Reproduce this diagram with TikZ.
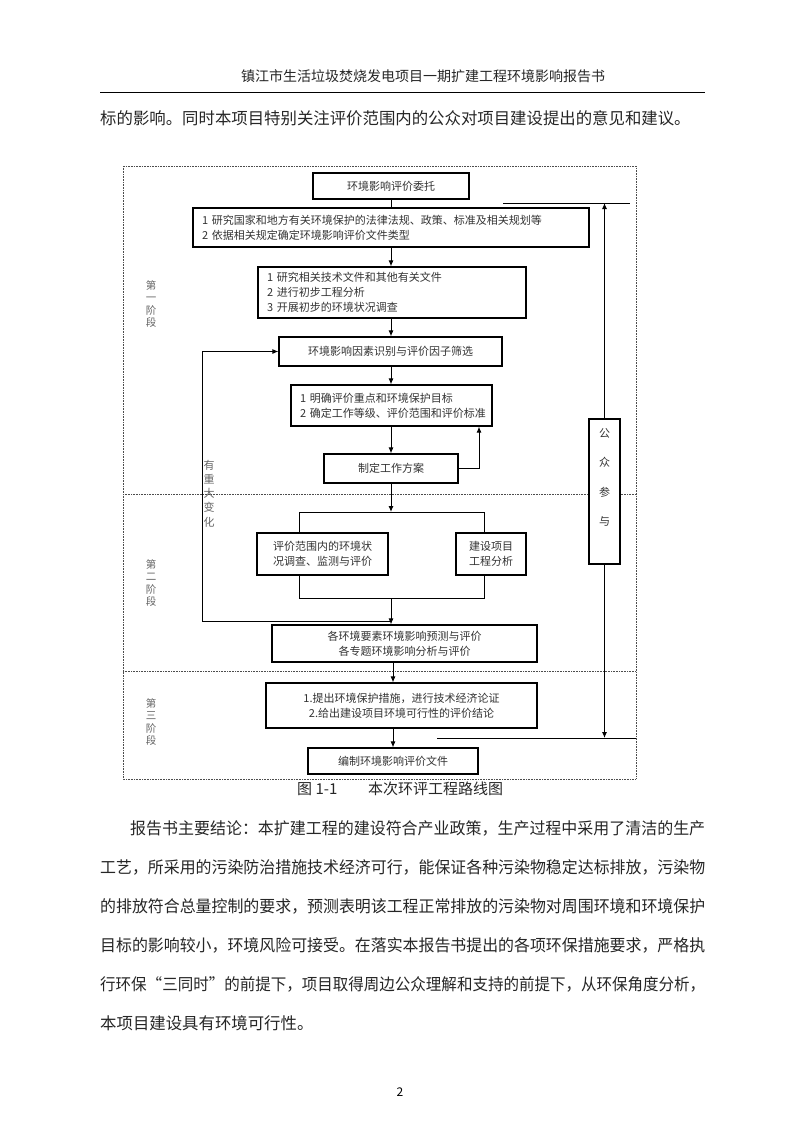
\documentclass[tikz,border=0pt]{standalone}
\usepackage{fontspec}
\usepackage{graphicx}
\setmainfont{Noto Sans CJK SC}
\usetikzlibrary{arrows.meta}
\newcommand\pline[2]{\resizebox{#1}{\height}{#2}}
\begin{document}
\begin{tikzpicture}[x=1pt,y=-1pt,
  box/.style={draw=black, line width=1.1pt, fill=white, inner sep=0pt,
    font=\fontsize{11}{15}\selectfont, text=black!80},
  lbox/.style={box, align=left, inner xsep=9pt},
  cbox/.style={box, align=center},
  arr/.style={line width=1pt, -{Latex[length=6pt,width=5pt]}},
  ln/.style={line width=1pt},
  frm/.style={draw=black!70, line width=1pt, dash pattern=on 1pt off 0.6pt},
  stage/.style={font=\fontsize{10.5}{12.5}\selectfont, text=black!60, align=center, inner sep=0pt},
  body/.style={font=\fontsize{16.4}{16.4}\selectfont, text=black!85, inner sep=0pt, anchor=west},
]
\useasboundingbox (0,0) rectangle (800,1132);
\fill[white] (0,0) rectangle (800,1132);

% header
\node[font=\fontsize{14}{14}\selectfont, text=black!85, inner sep=0pt] (hdr) at (423,76) {镇江市生活垃圾焚烧发电项目一期扩建工程环境影响报告书};
\coordinate (hl) at (100,92);
\coordinate (hr) at (705,92);
\draw[line width=1pt] (hl) -- (hr);
\node[body] (p0) at (100,118) {标的影响。同时本项目特别关注评价范围内的公众对项目建设提出的意见和建议。};

% frame
\draw[frm] (123,166) rectangle (636,779);
\draw[frm] (123,494) -- (636,494);
\draw[frm] (123,671) -- (636,671);

% stage labels
\node[stage] (s1) at (151,304) {第\\一\\阶\\段};
\node[stage] (s2) at (151,583) {第\\二\\阶\\段};
\node[stage] (s3) at (151,722) {第\\三\\阶\\段};

% boxes
\node[cbox, minimum width=156pt, minimum height=26pt] (b1) at (391,186) {环境影响评价委托};
\node[lbox, text width=378pt, inner xsep=9pt, minimum height=39pt] (b2) at (391,227.5) {1~研究国家和地方有关环境保护的法律法规、政策、标准及相关规划等\\2~依据相关规定确定环境影响评价文件类型};
\node[lbox, text width=250pt, minimum height=51pt] (b3) at (392,292.5) {1~研究相关技术文件和其他有关文件\\2~进行初步工程分析\\3~开展初步的环境状况调查};
\node[cbox, minimum width=223pt, minimum height=29pt] (b4) at (390.5,351.5) {环境影响因素识别与评价因子筛选};
\node[lbox, text width=183pt, minimum height=41pt] (b5) at (391.5,405.5) {1~明确评价重点和环境保护目标\\2~确定工作等级、评价范围和评价标准};
\node[cbox, minimum width=134pt, minimum height=29pt] (b6) at (391,468.5) {制定工作方案};
\node[cbox, minimum width=131pt, minimum height=42pt] (b7a) at (322.5,554) {评价范围内的环境状\\况调查、监测与评价};
\node[cbox, minimum width=70pt, minimum height=42pt] (b7b) at (491,554) {建设项目\\工程分析};
\node[cbox, minimum width=265pt, minimum height=37pt] (b8) at (404.5,643.5) {各环境要素环境影响预测与评价\\各专题环境影响分析与评价};
\node[cbox, minimum width=271pt, minimum height=45pt] (b9) at (401.5,705.5) {1.提出环境保护措施，进行技术经济论证\\2.给出建设项目环境可行性的评价结论};
\node[cbox, minimum width=170pt, minimum height=26pt] (b10) at (393,761) {编制环境影响评价文件};
\node[cbox, minimum width=31pt, minimum height=145pt, font=\fontsize{11}{29.5}\selectfont] (gz) at (604.5,491.5) {公\\众\\参\\与\\~};

% helper coordinates
\coordinate (mid) at (391,0);
\coordinate (mid2) at (393,0);
\coordinate (fb) at (479,0);
\coordinate (brTL) at (299,512);
\coordinate (brTR) at (484,512);
\coordinate (brBL) at (299,598);
\coordinate (brBR) at (484,598);
\coordinate (lp1) at (202,621);
\coordinate (lp2) at (202,351.5);
\coordinate (topL) at (503,203);
\coordinate (topR) at (630,203);
\coordinate (botL) at (437,738);
\coordinate (botR) at (636,738);

% connectors
\draw[ln] (b1.south -| mid) -- (b2.north -| mid);
\draw[arr] (b2.south -| mid) -- (b3.north -| mid);
\draw[arr] (b3.south -| mid) -- (b4.north -| mid);
\draw[arr] (b4.south -| mid) -- (b5.north -| mid);
\draw[arr] (b5.south -| mid) -- (b6.north -| mid);
\draw[arr] (b6.east) -| (b5.south -| fb);
\draw[arr] (b6.south -| mid) -- (brTL -| mid);
\draw[ln] (b7a.north -| brTL) -- (brTL) -- (brTR) -- (b7b.north -| brTR);
\draw[ln] (b7a.south -| brBL) -- (brBL) -- (brBR) -- (b7b.south -| brBR);
\draw[arr] (brBL -| mid) -- (b8.north -| mid);
\draw[arr] (lp1 -| mid) -- (lp1) -- (lp2) -- (b4.west);
\draw[arr] (b8.south -| mid2) -- (b9.north -| mid2);
\draw[arr] (b9.south -| mid2) -- (b10.north -| mid2);

\node[stage, font=\fontsize{11}{14.3}\selectfont] (chg) at (209,493.5) {有\\重\\大\\变\\化};

% public participation
\draw[ln] (topL) -- (topR);
\draw[arr] (gz.north) -- (gz.north |- topL);
\draw[ln] (botL) -- (botR);
\draw[arr] (gz.south) -- (gz.south |- botL);

% caption
\node[font=\fontsize{15}{15}\selectfont, text=black!85, inner sep=0pt, anchor=west] (cap1) at (297,789) {图 1-1};
\node[font=\fontsize{15}{15}\selectfont, text=black!85, inner sep=0pt, anchor=west] (cap2) at (368,789) {本次环评工程路线图};

% paragraph
\node[body] (q1) at (130,828) {\pline{575pt}{报告书主要结论：本扩建工程的建设符合产业政策，生产过程中采用了清洁的生产}};
\node[body] (q2) at (100,867) {\pline{605pt}{工艺，所采用的污染防治措施技术经济可行，能保证各种污染物稳定达标排放，污染物}};
\node[body] (q3) at (100,906) {\pline{605pt}{的排放符合总量控制的要求，预测表明该工程正常排放的污染物对周围环境和环境保护}};
\node[body] (q4) at (100,945) {\pline{605pt}{目标的影响较小，环境风险可接受。在落实本报告书提出的各项环保措施要求，严格执}};
\node[body] (q5) at (100,984) {\pline{605pt}{行环保“三同时”的前提下，项目取得周边公众理解和支持的前提下，从环保角度分析，}};
\node[body] (q6) at (100,1023) {本项目建设具有环境可行性。};

\node[font=\fontsize{12}{12}\selectfont, inner sep=0pt] (pg) at (400,1092) {2};
\end{tikzpicture}
\end{document}
